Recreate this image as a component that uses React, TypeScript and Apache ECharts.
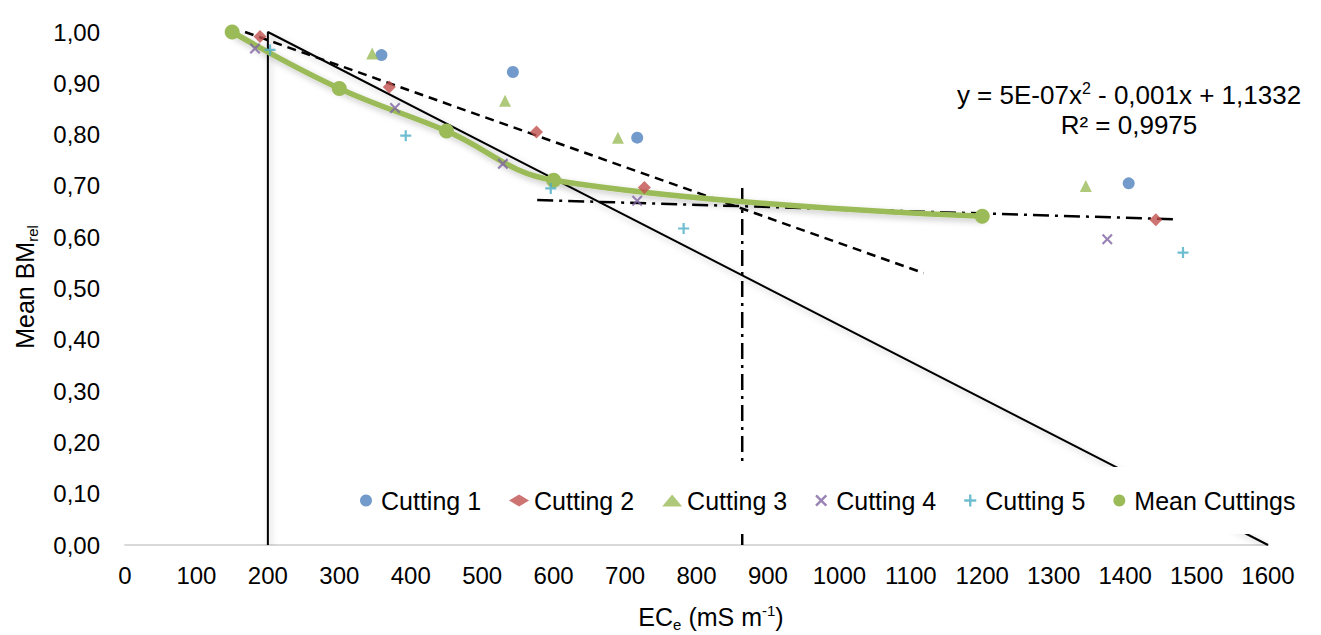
import React, { useEffect, useRef } from "react";
import * as echarts from "echarts";

const FONT = "'Liberation Sans', Arial, sans-serif";

// Scatter data: [ECe, mean relative biomass]
const cutting1: number[][] = [[359, 0.955], [543, 0.922], [717, 0.794], [1405, 0.705]];
const cutting2: number[][] = [[189, 0.991], [370, 0.893], [576, 0.805], [727, 0.697], [1443, 0.634]];
const cutting3: number[][] = [[346, 0.958], [532, 0.866], [690, 0.794], [1345, 0.7]];
const cutting4: number[][] = [[182, 0.968], [378, 0.852], [529, 0.743], [717, 0.671], [1375, 0.596]];
const cutting5: number[][] = [[203, 0.965], [393, 0.798], [596, 0.695], [782, 0.617], [1481, 0.57]];
const meanCuttings: number[][] = [[150, 1.0], [300, 0.89], [450, 0.807], [600, 0.711], [1200, 0.641]];

// Reference lines
const thresholdLine: number[][] = [[200, 0], [200, 1.0], [1600, 0]];
const dashedLine: number[][] = [[168, 1.0], [1118, 0.53]];
const dashDotHorizontal: number[][] = [[577, 0.6725], [1468, 0.635]];
const dashDotVertical: number[][] = [[864, 0], [864, 0.705]];

const legendNames = ["Cutting 1", "Cutting 2", "Cutting 3", "Cutting 4", "Cutting 5", "Mean Cuttings"];
const colors = ["#4F81BD", "#C0504D", "#9BBB59", "#8064A2", "#4BACC6", "#9BBB59"];

const trendEquation = "{a|y = 5E-07x}{sup|2}{a| - 0,001x + 1,1332}";
const trendR2 = "R² = 0,9975";
const xTitle = "{a|EC}{sub|e}{a| (mS m}{sup|-1}{a|)}";
const yTitle = "{a|Mean BM}{sub|rel}";

const PLUS = "path://M4,0H6V4H10V6H6V10H4V6H0V4H4Z";
const CROSS =
  "path://M1.4,0L5,3.6L8.6,0L10,1.4L6.4,5L10,8.6L8.6,10L5,6.4L1.4,10L0,8.6L3.6,5L0,1.4Z";

const makeRich = (size: number) => ({
  a: { fontSize: size, fontFamily: FONT, fill: "#000", color: "#000" },
  sub: { fontSize: Math.round(size * 0.6), fontFamily: FONT, fill: "#000", color: "#000", padding: [15, 0, 0, 0] },
  sup: { fontSize: Math.round(size * 0.6), fontFamily: FONT, fill: "#000", color: "#000", padding: [0, 0, 13, 0] },
});

const shadow = {
  shadowColor: "rgba(0,0,0,0.22)",
  shadowBlur: 6,
  shadowOffsetX: 2,
  shadowOffsetY: 3,
};

export default function App() {
  const ref = useRef<HTMLDivElement>(null);

  useEffect(() => {
    if (!ref.current) return;
    const chart = echarts.init(ref.current, undefined, { renderer: "svg" });

    const scatter = (name: string, data: number[][], symbol: string, size: number, color: string) => ({
      name,
      type: "scatter",
      data,
      symbol,
      symbolSize: size,
      itemStyle: { color },
      z: 5,
    });

    const option: any = {
      animation: false,
      backgroundColor: "#fff",
      grid: { left: 125, right: 53, top: 32, bottom: 90, containLabel: false },
      xAxis: {
        type: "value",
        min: 0,
        max: 1600,
        interval: 100,
        axisLine: { show: true, lineStyle: { color: "#D9D9D9", width: 2 } },
        axisTick: { show: false },
        splitLine: { show: false },
        axisLabel: {
          fontSize: 24,
          fontFamily: FONT,
          color: "#000",
          margin: 18,
          formatter: (v: number) => String(v),
        },
      },
      yAxis: {
        type: "value",
        min: 0,
        max: 1,
        interval: 0.1,
        axisLine: { show: false },
        axisTick: { show: false },
        splitLine: { show: false },
        axisLabel: {
          fontSize: 24,
          fontFamily: FONT,
          color: "#000",
          margin: 25,
          formatter: (v: number) => v.toFixed(2).replace(".", ","),
        },
      },
      legend: {
        data: legendNames.map((n, i) =>
          n === "Mean Cuttings" ? { name: n, icon: "circle", itemStyle: { color: colors[i] } } : { name: n }
        ),
        left: 352,
        top: 467,
        itemWidth: 20,
        itemHeight: 12,
        itemGap: 28,
        padding: [21, 8, 21, 8],
        backgroundColor: "#fff",
        textStyle: { fontSize: 25, fontFamily: FONT, color: "#000" },
        selectedMode: false,
      },
      graphic: [
        {
          type: "text",
          x: 711,
          y: 617,
          style: { text: xTitle, rich: makeRich(25), align: "center", verticalAlign: "middle" },
        },
        {
          type: "text",
          x: 25,
          y: 287,
          rotation: Math.PI / 2,
          style: { text: yTitle, rich: makeRich(25), align: "center", verticalAlign: "middle" },
        },
        {
          type: "text",
          x: 1129,
          y: 95,
          style: { text: trendEquation, rich: makeRich(26), align: "center", verticalAlign: "middle" },
        },
        {
          type: "text",
          x: 1129,
          y: 125,
          style: {
            text: trendR2,
            font: "26px " + FONT,
            fill: "#000",
            align: "center",
            verticalAlign: "middle",
          },
        },
      ],
      series: [
        {
          name: "Threshold",
          type: "line",
          data: thresholdLine,
          symbol: "none",
          silent: true,
          lineStyle: { color: "#000", width: 2, ...shadow },
          z: 2,
        },
        {
          name: "Dashed",
          type: "line",
          data: dashedLine,
          symbol: "none",
          silent: true,
          lineStyle: { color: "#000", width: 2.5, type: [9, 6] },
          z: 2,
        },
        {
          name: "DashDotH",
          type: "line",
          data: dashDotHorizontal,
          symbol: "none",
          silent: true,
          lineStyle: { color: "#000", width: 2.5, type: [16, 6, 3, 6] },
          z: 2,
        },
        {
          name: "DashDotV",
          type: "line",
          data: dashDotVertical,
          symbol: "none",
          silent: true,
          lineStyle: { color: "#000", width: 2.5, type: [16, 6, 3, 6] },
          z: 2,
        },
        {
          name: "Mean Cuttings",
          type: "line",
          data: meanCuttings,
          smooth: 0.4,
          symbol: "circle",
          symbolSize: 15,
          itemStyle: { color: colors[5] },
          lineStyle: { color: colors[5], width: 5.5, ...shadow },
          z: 3,
        },
        scatter("Cutting 1", cutting1, "circle", 12, colors[0]),
        scatter("Cutting 2", cutting2, "diamond", 13, colors[1]),
        scatter("Cutting 3", cutting3, "triangle", 12, colors[2]),
        scatter("Cutting 4", cutting4, CROSS, 11, colors[3]),
        scatter("Cutting 5", cutting5, PLUS, 11, colors[4]),
      ],
    };

    chart.setOption(option);
    return () => chart.dispose();
  }, []);

  return (
    <div
      ref={ref}
      style={{ position: "absolute", left: 0, top: 0, width: 1321, height: 635, background: "#fff" }}
    />
  );
}
